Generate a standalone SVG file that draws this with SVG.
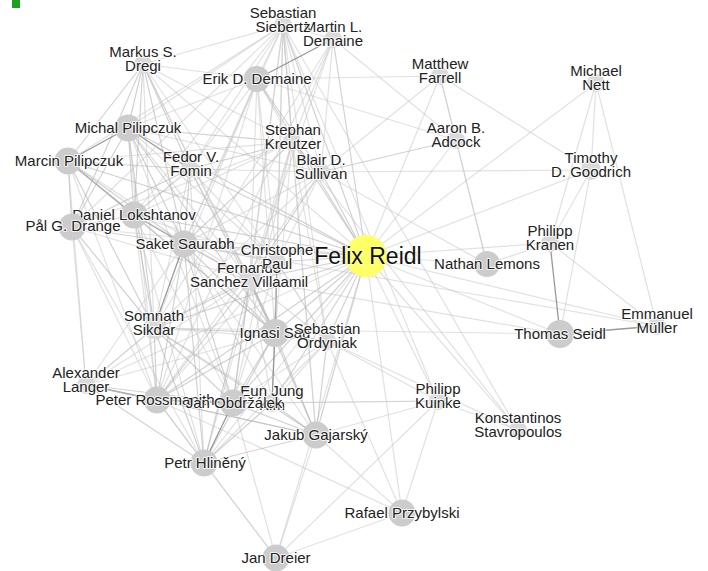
<svg xmlns="http://www.w3.org/2000/svg" width="708" height="571" viewBox="0 0 708 571">
<style>
.f{stroke:#c8c8c8;stroke-opacity:.55;stroke-width:1.2;fill:none}
.e{stroke:#adadad;stroke-opacity:.55;stroke-width:1.2;fill:none}
.d{stroke:#777;stroke-opacity:.75;stroke-width:1.3;fill:none}
.big{fill:#cccccc}
.sm{fill:#dadada}
.lbl{font-family:"Liberation Sans",Arial,sans-serif;font-size:15px;fill:#222;text-anchor:middle;stroke:#fff;stroke-width:2.2;stroke-opacity:.75;paint-order:stroke;stroke-linejoin:round}
.hub{fill:#ffff66}
.hubl{font-family:"Liberation Sans",Arial,sans-serif;font-size:23px;fill:#111;text-anchor:middle;stroke:#fff;stroke-width:1.5;stroke-opacity:.5;paint-order:stroke}
</style>
<rect width="708" height="571" fill="#fff"/>
<rect x="12" y="0" width="8" height="8" fill="#1f9e1f"/>
<g id="edges">
<line class="e" x1="366" y1="256" x2="283" y2="25"/>
<line class="e" x1="366" y1="256" x2="333" y2="39"/>
<line class="f" x1="366" y1="256" x2="143" y2="64"/>
<line class="e" x1="366" y1="256" x2="257" y2="79"/>
<line class="e" x1="366" y1="256" x2="128" y2="128"/>
<line class="e" x1="366" y1="256" x2="68" y2="161"/>
<line class="e" x1="366" y1="256" x2="292" y2="142"/>
<line class="e" x1="366" y1="256" x2="190" y2="169"/>
<line class="e" x1="366" y1="256" x2="321" y2="172"/>
<line class="f" x1="366" y1="256" x2="440" y2="76"/>
<line class="f" x1="366" y1="256" x2="456" y2="140"/>
<line class="f" x1="366" y1="256" x2="596" y2="83"/>
<line class="f" x1="366" y1="256" x2="591" y2="170"/>
<line class="f" x1="366" y1="256" x2="550" y2="243"/>
<line class="f" x1="366" y1="256" x2="487" y2="264"/>
<line class="f" x1="366" y1="256" x2="560" y2="334"/>
<line class="f" x1="366" y1="256" x2="657" y2="326"/>
<line class="f" x1="366" y1="256" x2="438" y2="401"/>
<line class="f" x1="366" y1="256" x2="518" y2="430"/>
<line class="e" x1="366" y1="256" x2="134" y2="215"/>
<line class="f" x1="366" y1="256" x2="72" y2="227"/>
<line class="e" x1="366" y1="256" x2="184" y2="244"/>
<line class="e" x1="366" y1="256" x2="277" y2="262"/>
<line class="e" x1="366" y1="256" x2="250" y2="280"/>
<line class="e" x1="366" y1="256" x2="154" y2="328"/>
<line class="e" x1="366" y1="256" x2="275" y2="333"/>
<line class="e" x1="366" y1="256" x2="327" y2="341"/>
<line class="f" x1="366" y1="256" x2="86" y2="385"/>
<line class="e" x1="366" y1="256" x2="157" y2="400"/>
<line class="e" x1="366" y1="256" x2="233" y2="403"/>
<line class="e" x1="366" y1="256" x2="272" y2="403"/>
<line class="e" x1="366" y1="256" x2="316" y2="435"/>
<line class="f" x1="366" y1="256" x2="204" y2="463"/>
<line class="f" x1="366" y1="256" x2="402" y2="513"/>
<line class="f" x1="366" y1="256" x2="276" y2="558"/>
<line class="f" x1="143" y1="64" x2="283" y2="25"/>
<line class="e" x1="143" y1="64" x2="128" y2="128"/>
<line class="e" x1="143" y1="64" x2="68" y2="161"/>
<line class="e" x1="143" y1="64" x2="190" y2="169"/>
<line class="e" x1="143" y1="64" x2="134" y2="215"/>
<line class="e" x1="143" y1="64" x2="72" y2="227"/>
<line class="e" x1="143" y1="64" x2="184" y2="244"/>
<line class="f" x1="143" y1="64" x2="292" y2="142"/>
<line class="f" x1="143" y1="64" x2="277" y2="262"/>
<line class="f" x1="143" y1="64" x2="250" y2="280"/>
<line class="f" x1="143" y1="64" x2="275" y2="333"/>
<line class="f" x1="143" y1="64" x2="154" y2="328"/>
<line class="f" x1="143" y1="64" x2="257" y2="79"/>
<line class="d" x1="128" y1="128" x2="68" y2="161"/>
<line class="d" x1="128" y1="128" x2="190" y2="169"/>
<line class="e" x1="128" y1="128" x2="134" y2="215"/>
<line class="e" x1="128" y1="128" x2="72" y2="227"/>
<line class="e" x1="128" y1="128" x2="184" y2="244"/>
<line class="f" x1="128" y1="128" x2="283" y2="25"/>
<line class="e" x1="128" y1="128" x2="292" y2="142"/>
<line class="f" x1="128" y1="128" x2="257" y2="79"/>
<line class="e" x1="128" y1="128" x2="275" y2="333"/>
<line class="f" x1="128" y1="128" x2="277" y2="262"/>
<line class="f" x1="128" y1="128" x2="250" y2="280"/>
<line class="e" x1="128" y1="128" x2="154" y2="328"/>
<line class="f" x1="128" y1="128" x2="321" y2="172"/>
<line class="f" x1="128" y1="128" x2="157" y2="400"/>
<line class="f" x1="128" y1="128" x2="233" y2="403"/>
<line class="e" x1="68" y1="161" x2="190" y2="169"/>
<line class="d" x1="68" y1="161" x2="134" y2="215"/>
<line class="e" x1="68" y1="161" x2="72" y2="227"/>
<line class="e" x1="68" y1="161" x2="184" y2="244"/>
<line class="f" x1="68" y1="161" x2="283" y2="25"/>
<line class="f" x1="68" y1="161" x2="292" y2="142"/>
<line class="e" x1="68" y1="161" x2="154" y2="328"/>
<line class="f" x1="68" y1="161" x2="157" y2="400"/>
<line class="f" x1="68" y1="161" x2="86" y2="385"/>
<line class="f" x1="68" y1="161" x2="275" y2="333"/>
<line class="f" x1="68" y1="161" x2="250" y2="280"/>
<line class="e" x1="190" y1="169" x2="134" y2="215"/>
<line class="e" x1="190" y1="169" x2="72" y2="227"/>
<line class="e" x1="190" y1="169" x2="184" y2="244"/>
<line class="f" x1="190" y1="169" x2="283" y2="25"/>
<line class="e" x1="190" y1="169" x2="292" y2="142"/>
<line class="f" x1="190" y1="169" x2="257" y2="79"/>
<line class="e" x1="190" y1="169" x2="275" y2="333"/>
<line class="f" x1="190" y1="169" x2="277" y2="262"/>
<line class="f" x1="190" y1="169" x2="250" y2="280"/>
<line class="f" x1="190" y1="169" x2="154" y2="328"/>
<line class="f" x1="190" y1="169" x2="204" y2="463"/>
<line class="f" x1="190" y1="169" x2="321" y2="172"/>
<line class="e" x1="134" y1="215" x2="72" y2="227"/>
<line class="d" x1="134" y1="215" x2="184" y2="244"/>
<line class="f" x1="134" y1="215" x2="283" y2="25"/>
<line class="f" x1="134" y1="215" x2="292" y2="142"/>
<line class="e" x1="134" y1="215" x2="275" y2="333"/>
<line class="f" x1="134" y1="215" x2="277" y2="262"/>
<line class="f" x1="134" y1="215" x2="250" y2="280"/>
<line class="e" x1="134" y1="215" x2="154" y2="328"/>
<line class="f" x1="134" y1="215" x2="157" y2="400"/>
<line class="f" x1="134" y1="215" x2="204" y2="463"/>
<line class="f" x1="134" y1="215" x2="233" y2="403"/>
<line class="e" x1="72" y1="227" x2="184" y2="244"/>
<line class="f" x1="72" y1="227" x2="283" y2="25"/>
<line class="f" x1="72" y1="227" x2="292" y2="142"/>
<line class="e" x1="72" y1="227" x2="154" y2="328"/>
<line class="f" x1="72" y1="227" x2="157" y2="400"/>
<line class="f" x1="72" y1="227" x2="86" y2="385"/>
<line class="f" x1="72" y1="227" x2="204" y2="463"/>
<line class="f" x1="72" y1="227" x2="250" y2="280"/>
<line class="f" x1="184" y1="244" x2="283" y2="25"/>
<line class="e" x1="184" y1="244" x2="292" y2="142"/>
<line class="e" x1="184" y1="244" x2="275" y2="333"/>
<line class="e" x1="184" y1="244" x2="277" y2="262"/>
<line class="e" x1="184" y1="244" x2="250" y2="280"/>
<line class="d" x1="184" y1="244" x2="154" y2="328"/>
<line class="e" x1="184" y1="244" x2="157" y2="400"/>
<line class="f" x1="184" y1="244" x2="86" y2="385"/>
<line class="e" x1="184" y1="244" x2="204" y2="463"/>
<line class="e" x1="184" y1="244" x2="233" y2="403"/>
<line class="f" x1="184" y1="244" x2="316" y2="435"/>
<line class="f" x1="184" y1="244" x2="272" y2="403"/>
<line class="f" x1="184" y1="244" x2="257" y2="79"/>
<line class="f" x1="184" y1="244" x2="321" y2="172"/>
<line class="f" x1="184" y1="244" x2="657" y2="326"/>
<line class="e" x1="283" y1="25" x2="292" y2="142"/>
<line class="f" x1="283" y1="25" x2="257" y2="79"/>
<line class="f" x1="283" y1="25" x2="333" y2="39"/>
<line class="f" x1="283" y1="25" x2="321" y2="172"/>
<line class="f" x1="283" y1="25" x2="275" y2="333"/>
<line class="f" x1="283" y1="25" x2="277" y2="262"/>
<line class="f" x1="283" y1="25" x2="250" y2="280"/>
<line class="f" x1="283" y1="25" x2="327" y2="341"/>
<line class="f" x1="283" y1="25" x2="316" y2="435"/>
<line class="f" x1="283" y1="25" x2="518" y2="430"/>
<line class="f" x1="283" y1="25" x2="438" y2="401"/>
<line class="f" x1="283" y1="25" x2="233" y2="403"/>
<line class="f" x1="292" y1="142" x2="257" y2="79"/>
<line class="f" x1="292" y1="142" x2="333" y2="39"/>
<line class="e" x1="292" y1="142" x2="321" y2="172"/>
<line class="f" x1="292" y1="142" x2="275" y2="333"/>
<line class="f" x1="292" y1="142" x2="250" y2="280"/>
<line class="f" x1="292" y1="142" x2="327" y2="341"/>
<line class="f" x1="292" y1="142" x2="316" y2="435"/>
<line class="f" x1="292" y1="142" x2="518" y2="430"/>
<line class="f" x1="292" y1="142" x2="233" y2="403"/>
<line class="f" x1="292" y1="142" x2="204" y2="463"/>
<line class="d" x1="257" y1="79" x2="333" y2="39"/>
<line class="e" x1="257" y1="79" x2="321" y2="172"/>
<line class="f" x1="257" y1="79" x2="456" y2="140"/>
<line class="f" x1="257" y1="79" x2="440" y2="76"/>
<line class="f" x1="257" y1="79" x2="275" y2="333"/>
<line class="f" x1="257" y1="79" x2="277" y2="262"/>
<line class="f" x1="257" y1="79" x2="250" y2="280"/>
<line class="f" x1="257" y1="79" x2="154" y2="328"/>
<line class="f" x1="257" y1="79" x2="157" y2="400"/>
<line class="f" x1="333" y1="39" x2="321" y2="172"/>
<line class="f" x1="333" y1="39" x2="456" y2="140"/>
<line class="f" x1="333" y1="39" x2="250" y2="280"/>
<line class="f" x1="333" y1="39" x2="154" y2="328"/>
<line class="f" x1="333" y1="39" x2="157" y2="400"/>
<line class="e" x1="321" y1="172" x2="456" y2="140"/>
<line class="f" x1="321" y1="172" x2="440" y2="76"/>
<line class="f" x1="321" y1="172" x2="591" y2="170"/>
<line class="e" x1="321" y1="172" x2="250" y2="280"/>
<line class="f" x1="321" y1="172" x2="154" y2="328"/>
<line class="f" x1="321" y1="172" x2="157" y2="400"/>
<line class="f" x1="321" y1="172" x2="277" y2="262"/>
<line class="f" x1="321" y1="172" x2="487" y2="264"/>
<line class="f" x1="456" y1="140" x2="440" y2="76"/>
<line class="f" x1="456" y1="140" x2="487" y2="264"/>
<line class="f" x1="440" y1="76" x2="591" y2="170"/>
<line class="f" x1="440" y1="76" x2="487" y2="264"/>
<line class="f" x1="487" y1="264" x2="550" y2="243"/>
<line class="d" x1="560" y1="334" x2="550" y2="243"/>
<line class="d" x1="560" y1="334" x2="657" y2="326"/>
<line class="f" x1="560" y1="334" x2="591" y2="170"/>
<line class="f" x1="550" y1="243" x2="657" y2="326"/>
<line class="f" x1="550" y1="243" x2="591" y2="170"/>
<line class="f" x1="596" y1="83" x2="591" y2="170"/>
<line class="f" x1="596" y1="83" x2="657" y2="326"/>
<line class="f" x1="596" y1="83" x2="550" y2="243"/>
<line class="e" x1="277" y1="262" x2="250" y2="280"/>
<line class="d" x1="277" y1="262" x2="275" y2="333"/>
<line class="e" x1="277" y1="262" x2="327" y2="341"/>
<line class="f" x1="277" y1="262" x2="154" y2="328"/>
<line class="f" x1="277" y1="262" x2="157" y2="400"/>
<line class="f" x1="277" y1="262" x2="272" y2="403"/>
<line class="f" x1="277" y1="262" x2="233" y2="403"/>
<line class="e" x1="250" y1="280" x2="275" y2="333"/>
<line class="e" x1="250" y1="280" x2="154" y2="328"/>
<line class="e" x1="250" y1="280" x2="157" y2="400"/>
<line class="f" x1="250" y1="280" x2="86" y2="385"/>
<line class="e" x1="250" y1="280" x2="233" y2="403"/>
<line class="e" x1="250" y1="280" x2="204" y2="463"/>
<line class="e" x1="250" y1="280" x2="316" y2="435"/>
<line class="f" x1="250" y1="280" x2="327" y2="341"/>
<line class="f" x1="250" y1="280" x2="272" y2="403"/>
<line class="f" x1="250" y1="280" x2="560" y2="334"/>
<line class="e" x1="154" y1="328" x2="275" y2="333"/>
<line class="f" x1="154" y1="328" x2="327" y2="341"/>
<line class="e" x1="154" y1="328" x2="86" y2="385"/>
<line class="e" x1="154" y1="328" x2="157" y2="400"/>
<line class="e" x1="154" y1="328" x2="233" y2="403"/>
<line class="e" x1="154" y1="328" x2="204" y2="463"/>
<line class="e" x1="154" y1="328" x2="316" y2="435"/>
<line class="f" x1="154" y1="328" x2="272" y2="403"/>
<line class="f" x1="154" y1="328" x2="560" y2="334"/>
<line class="e" x1="275" y1="333" x2="327" y2="341"/>
<line class="d" x1="275" y1="333" x2="272" y2="403"/>
<line class="e" x1="275" y1="333" x2="233" y2="403"/>
<line class="e" x1="275" y1="333" x2="316" y2="435"/>
<line class="e" x1="275" y1="333" x2="157" y2="400"/>
<line class="e" x1="275" y1="333" x2="204" y2="463"/>
<line class="f" x1="275" y1="333" x2="86" y2="385"/>
<line class="e" x1="327" y1="341" x2="316" y2="435"/>
<line class="f" x1="327" y1="341" x2="233" y2="403"/>
<line class="f" x1="327" y1="341" x2="204" y2="463"/>
<line class="f" x1="327" y1="341" x2="272" y2="403"/>
<line class="f" x1="327" y1="341" x2="402" y2="513"/>
<line class="f" x1="327" y1="341" x2="518" y2="430"/>
<line class="f" x1="327" y1="341" x2="438" y2="401"/>
<line class="d" x1="86" y1="385" x2="157" y2="400"/>
<line class="e" x1="86" y1="385" x2="233" y2="403"/>
<line class="e" x1="86" y1="385" x2="204" y2="463"/>
<line class="f" x1="86" y1="385" x2="316" y2="435"/>
<line class="d" x1="157" y1="400" x2="233" y2="403"/>
<line class="e" x1="157" y1="400" x2="204" y2="463"/>
<line class="e" x1="157" y1="400" x2="316" y2="435"/>
<line class="e" x1="157" y1="400" x2="272" y2="403"/>
<line class="f" x1="157" y1="400" x2="276" y2="558"/>
<line class="f" x1="157" y1="400" x2="402" y2="513"/>
<line class="d" x1="233" y1="403" x2="204" y2="463"/>
<line class="e" x1="233" y1="403" x2="316" y2="435"/>
<line class="e" x1="233" y1="403" x2="272" y2="403"/>
<line class="f" x1="233" y1="403" x2="276" y2="558"/>
<line class="f" x1="233" y1="403" x2="438" y2="401"/>
<line class="e" x1="272" y1="403" x2="316" y2="435"/>
<line class="e" x1="272" y1="403" x2="204" y2="463"/>
<line class="f" x1="272" y1="403" x2="438" y2="401"/>
<line class="e" x1="316" y1="435" x2="204" y2="463"/>
<line class="f" x1="316" y1="435" x2="276" y2="558"/>
<line class="f" x1="316" y1="435" x2="402" y2="513"/>
<line class="f" x1="316" y1="435" x2="438" y2="401"/>
<line class="f" x1="204" y1="463" x2="276" y2="558"/>
<line class="f" x1="402" y1="513" x2="276" y2="558"/>
<line class="f" x1="402" y1="513" x2="438" y2="401"/>
<line class="f" x1="438" y1="401" x2="518" y2="430"/>
<line class="f" x1="438" y1="401" x2="276" y2="558"/>
</g>
<g id="n-martin-demaine"><circle class="sm" cx="333" cy="39" r="9"/><text class="lbl" x="333" y="32">Martin L.<tspan x="333" dy="14">Demaine</tspan></text></g>
<g id="n-sebastian-siebertz"><circle class="sm" cx="283" cy="25" r="9"/><text class="lbl" x="283" y="18">Sebastian<tspan x="283" dy="14">Siebertz</tspan></text></g>
<g id="n-markus-dregi"><circle class="sm" cx="143" cy="64" r="9"/><text class="lbl" x="143" y="57">Markus S.<tspan x="143" dy="14">Dregi</tspan></text></g>
<g id="n-erik-demaine"><circle class="big" cx="257" cy="79" r="13"/><text class="lbl" x="257" y="84">Erik D. Demaine</text></g>
<g id="n-michal-pilipczuk"><circle class="big" cx="128" cy="128" r="13.5"/><text class="lbl" x="128" y="133">Michal Pilipczuk</text></g>
<g id="n-marcin-pilipczuk"><circle class="big" cx="68" cy="161" r="13.5"/><text class="lbl" x="69" y="166">Marcin Pilipczuk</text></g>
<g id="n-fedor-fomin"><circle class="sm" cx="190" cy="169" r="9"/><text class="lbl" x="191" y="162">Fedor V.<tspan x="191" dy="14">Fomin</tspan></text></g>
<g id="n-stephan-kreutzer"><circle class="sm" cx="292" cy="142" r="9"/><text class="lbl" x="293" y="135">Stephan<tspan x="293" dy="14">Kreutzer</tspan></text></g>
<g id="n-blair-sullivan"><circle class="sm" cx="321" cy="172" r="9"/><text class="lbl" x="321" y="165">Blair D.<tspan x="321" dy="14">Sullivan</tspan></text></g>
<g id="n-matthew-farrell"><circle class="sm" cx="440" cy="76" r="9"/><text class="lbl" x="440" y="69">Matthew<tspan x="440" dy="14">Farrell</tspan></text></g>
<g id="n-aaron-adcock"><circle class="sm" cx="456" cy="140" r="9"/><text class="lbl" x="456" y="133">Aaron B.<tspan x="456" dy="14">Adcock</tspan></text></g>
<g id="n-michael-nett"><circle class="sm" cx="596" cy="83" r="9"/><text class="lbl" x="596" y="76">Michael<tspan x="596" dy="14">Nett</tspan></text></g>
<g id="n-timothy-goodrich"><circle class="sm" cx="591" cy="170" r="10"/><text class="lbl" x="591" y="163">Timothy<tspan x="591" dy="14">D. Goodrich</tspan></text></g>
<g id="n-philipp-kranen"><circle class="sm" cx="550" cy="243" r="9"/><text class="lbl" x="550" y="236">Philipp<tspan x="550" dy="13.5">Kranen</tspan></text></g>
<g id="n-nathan-lemons"><circle class="big" cx="487" cy="264" r="13"/><text class="lbl" x="487" y="269">Nathan Lemons</text></g>
<g id="n-thomas-seidl"><circle class="big" cx="560" cy="334" r="14"/><text class="lbl" x="560" y="339">Thomas Seidl</text></g>
<g id="n-emmanuel-muller"><circle class="sm" cx="657" cy="326" r="9"/><text class="lbl" x="657" y="319">Emmanuel<tspan x="657" dy="14">Müller</tspan></text></g>
<g id="n-philipp-kuinke"><circle class="sm" cx="438" cy="401" r="9"/><text class="lbl" x="438" y="394">Philipp<tspan x="438" dy="13.5">Kuinke</tspan></text></g>
<g id="n-konstantinos-stavropoulos"><circle class="sm" cx="518" cy="430" r="9"/><text class="lbl" x="518" y="423">Konstantinos<tspan x="518" dy="14">Stavropoulos</tspan></text></g>
<g id="n-daniel-lokshtanov"><circle class="big" cx="134" cy="215" r="13.5"/><text class="lbl" x="134" y="220">Daniel Lokshtanov</text></g>
<g id="n-pal-drange"><circle class="big" cx="72" cy="227" r="13.5"/><text class="lbl" x="73" y="231">Pål G. Drange</text></g>
<g id="n-saket-saurabh"><circle class="big" cx="184" cy="244" r="13.5"/><text class="lbl" x="185" y="249">Saket Saurabh</text></g>
<g id="n-fernando-sanchez-villaamil"><circle class="sm" cx="250" cy="280" r="11"/><text class="lbl" x="249" y="273">Fernando<tspan x="249" dy="14">Sanchez Villaamil</tspan></text></g>
<g id="n-christophe-paul"><circle class="sm" cx="277" cy="262" r="9"/><text class="lbl" x="277" y="255">Christophe<tspan x="277" dy="13.5">Paul</tspan></text></g>
<g id="n-somnath-sikdar"><circle class="sm" cx="154" cy="328" r="11"/><text class="lbl" x="154" y="321">Somnath<tspan x="154" dy="14">Sikdar</tspan></text></g>
<g id="n-ignasi-sau"><circle class="big" cx="275" cy="333" r="14"/><text class="lbl" x="275" y="338">Ignasi Sau</text></g>
<g id="n-sebastian-ordyniak"><circle class="sm" cx="327" cy="341" r="9"/><text class="lbl" x="327" y="334">Sebastian<tspan x="327" dy="14">Ordyniak</tspan></text></g>
<g id="n-alexander-langer"><circle class="sm" cx="86" cy="385" r="9"/><text class="lbl" x="86" y="378">Alexander<tspan x="86" dy="14">Langer</tspan></text></g>
<g id="n-peter-rossmanith"><circle class="big" cx="157" cy="400" r="13.5"/><text class="lbl" x="155" y="405">Peter Rossmanith</text></g>
<g id="n-eun-jung-kim"><circle class="sm" cx="272" cy="403" r="9"/><text class="lbl" x="272" y="396">Eun Jung<tspan x="272" dy="14">Kim</tspan></text></g>
<g id="n-jan-obdrzalek"><circle class="big" cx="233" cy="403" r="13.5"/><text class="lbl" x="234" y="408">Jan Obdržálek</text></g>
<g id="n-jakub-gajarsky"><circle class="big" cx="316" cy="435" r="13.5"/><text class="lbl" x="316" y="440">Jakub Gajarský</text></g>
<g id="n-petr-hlineny"><circle class="big" cx="204" cy="463" r="13.5"/><text class="lbl" x="205" y="468">Petr Hliněný</text></g>
<g id="n-rafael-przybylski"><circle class="big" cx="402" cy="513" r="13.5"/><text class="lbl" x="402" y="518">Rafael Przybylski</text></g>
<g id="n-jan-dreier"><circle class="big" cx="276" cy="558" r="13.5"/><text class="lbl" x="276" y="563">Jan Dreier</text></g>
<g id="n-felix-reidl"><circle class="hub" cx="366" cy="256" r="21"/><text class="hubl" x="368" y="264">Felix Reidl</text></g>
</svg>
